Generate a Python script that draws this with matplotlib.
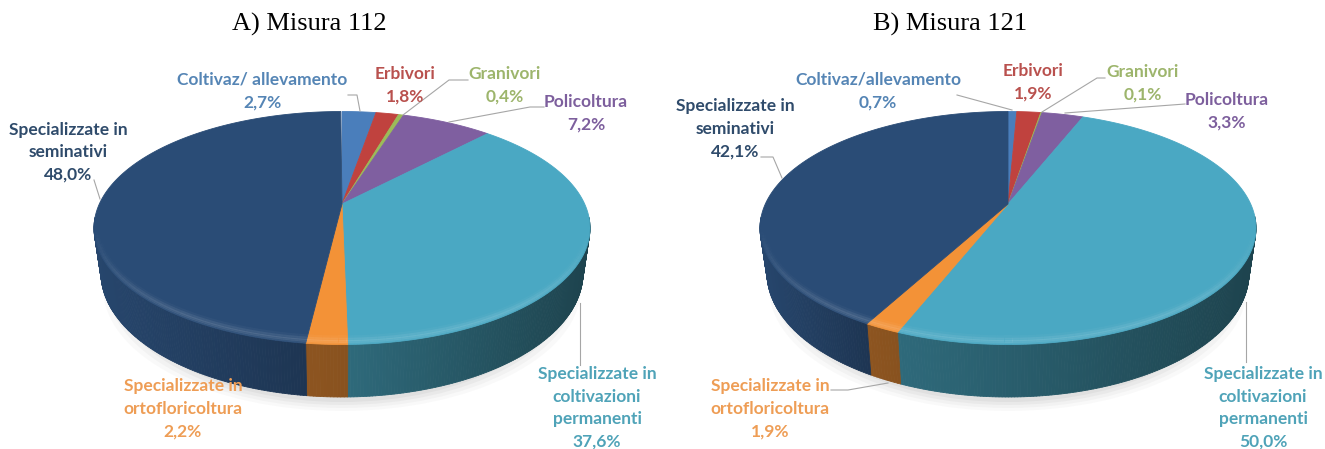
import matplotlib

matplotlib.use("Agg")

import matplotlib.pyplot as plt
import numpy as np
from matplotlib.collections import LineCollection, PolyCollection
from matplotlib.patches import Ellipse, Polygon

categories = ["Coltivaz", "Erbivori", "Granivori", "Policoltura",
              "Permanenti", "Ortofloricoltura", "Seminativi"]
values_a = [2.7, 1.8, 0.4, 7.2, 37.6, 2.2, 48.0]
values_b = [0.7, 1.9, 0.1, 3.3, 50.0, 1.9, 42.1]

labels_a = ["Coltivaz/ allevamento\n2,7%", "Erbivori\n1,8%", "Granivori\n0,4%",
            "Policoltura\n7,2%", "Specializzate in\ncoltivazioni\npermanenti\n37,6%",
            "Specializzate in\nortofloricoltura\n2,2%",
            "Specializzate in\nseminativi\n48,0%"]
labels_b = ["Coltivaz/allevamento\n0,7%", "Erbivori\n1,9%", "Granivori\n0,1%",
            "Policoltura\n3,3%", "Specializzate in\ncoltivazioni\npermanenti\n50,0%",
            "Specializzate in\nortofloricoltura\n1,9%",
            "Specializzate in\nseminativi\n42,1%"]

slice_colors = ["#4a7ebb", "#c0423e", "#9bbb59", "#7f5fa0", "#4aa8c3", "#f39237", "#2a4c76"]
text_colors = ["#5585b5", "#b9514e", "#9db56c", "#7d5f9d", "#4fa3b8", "#ee9d55", "#2f4b6b"]
# side brightness at the left and right end of each slice's wall
side_shade = [(.6, .6), (.6, .6), (.6, .6), (.6, .6), (.63, .40), (.58, .56), (.92, .70)]

label_pos_a = [(262, 91), (405, 85), (505, 85), (586, 113), (597, 408), (183, 409), (68, 152)]
label_pos_b = [(878, 91), (1033, 82), (1143, 83), (1227, 111), (1263, 408), (770, 409), (735, 129)]

leaders_a = [[(348, 95), (357, 95), (360, 111)],
             [(468, 80), (449, 80), (403, 115)],
             [(544, 107), (530, 107), (449, 122)],
             [(94, 180), (100, 199)],
             [(580, 303), (580, 365)]]
leaders_b = [[(957, 95), (1012, 110)],
             [(1105, 78), (1097, 78), (1042, 112)],
             [(1185, 104), (1065, 113)],
             [(761, 157), (773, 157), (782, 178)],
             [(1246, 302), (1246, 362)],
             [(831, 390), (848, 390), (888, 383)]]

RX, RY = 248, 116.5
TOP_Y = 228
BOTTOM_Y, BOTTOM_RX, BOTTOM_RY = 273, 241, 124
TILT = 0.206  # apex sits above the centre of the ellipse


def project(pct):
    # percent clockwise from 12 o'clock, perspective onto unit circle
    theta = np.asarray(pct) * 2 * np.pi / 100
    x, y = np.sin(theta), np.cos(theta)
    den = 1 + TILT * y
    return x * np.sqrt(1 - TILT**2) / den, (y + TILT) / den


def draw_pie(ax, cx, values):
    # soft shadow under the pie
    for shrink, drop, alpha in [(2, 15, .03), (6, 12, .04), (10, 9, .05), (14, 6, .06)]:
        ax.add_patch(Ellipse((cx, BOTTOM_Y + drop), 2 * (BOTTOM_RX - shrink), 2 * (BOTTOM_RY - 1),
                             fc="#555555", ec="none", alpha=alpha, zorder=1))

    edges = np.concatenate([[0], np.cumsum(values)])
    for i in range(len(values)):
        pct = np.linspace(edges[i], edges[i + 1], max(int(values[i] * 6), 4))
        px, py = project(pct)
        top = np.column_stack([cx + RX * px, TOP_Y - RY * py])
        low = np.column_stack([cx + BOTTOM_RX * px, BOTTOM_Y - BOTTOM_RY * py])

        # wall
        front = py < 0.1
        if front.sum() > 1:
            base = np.array(matplotlib.colors.to_rgb(slice_colors[i]))
            order = np.where(front)[0]
            xs = top[order, 0]
            span = np.ptp(xs) or 1
            quads, colors = [], []
            for a, b in zip(order[:-1], order[1:]):
                t = (0.5 * (top[a, 0] + top[b, 0]) - xs.min()) / span
                s0, s1 = side_shade[i]
                quads.append([top[a], top[b], low[b], low[a]])
                colors.append(np.clip(base * (s0 + (s1 - s0) * t), 0, 1))
            ax.add_collection(PolyCollection(quads, facecolors=colors, edgecolors=colors,
                                             linewidths=.6, zorder=2))

        # top face
        ax.add_patch(Polygon(np.vstack([[cx, TOP_Y - RY * TILT], top]), closed=True,
                             fc=slice_colors[i], ec=slice_colors[i], lw=.6, zorder=3))

    # bevel along the front of the rim
    pct = np.linspace(25, 75, 120)
    px, py = project(pct)
    for inset, width, alpha in [(7, 3.0, .03), (5, 2.5, .07), (3, 2.0, .10), (1, 1.5, .05)]:
        rx, ry = RX - inset * .7, RY - inset
        pts = np.column_stack([cx + rx * px, TOP_Y - ry * py])
        segs = np.stack([pts[:-1], pts[1:]], axis=1)
        fade = np.clip(-py[:-1] * 1.3, 0, 1)
        rgba = np.zeros((len(segs), 4))
        rgba[:, :3] = 1
        rgba[:, 3] = alpha * fade
        ax.add_collection(LineCollection(segs, colors=rgba, linewidths=width, zorder=4))


fig = plt.figure(figsize=(13.25, 4.49), dpi=100)
ax = fig.add_axes([0, 0, 1, 1])
ax.set_xlim(0, 1325)
ax.set_ylim(449, 0)
ax.axis("off")

draw_pie(ax, 342, values_a)
draw_pie(ax, 1008, values_b)

for path in leaders_a + leaders_b:
    xs, ys = zip(*path)
    ax.plot(xs, ys, color="#a6a6a6", lw=.8, zorder=5)

for labels, positions in [(labels_a, label_pos_a), (labels_b, label_pos_b)]:
    for text, (x, y), color in zip(labels, positions, text_colors):
        ax.text(x, y, text, color=color, ha="center", va="center", family="Lato",
                fontweight="bold", fontsize=12.5, linespacing=1.5, zorder=6)

ax.text(309.5, 24, "A) Misura 112", family="Liberation Serif", fontsize=19, ha="center",
        va="center", color="black")
ax.text(950, 24, "B) Misura 121", family="Liberation Serif", fontsize=19, ha="center",
        va="center", color="black")

fig.savefig("out.png", dpi=100)
